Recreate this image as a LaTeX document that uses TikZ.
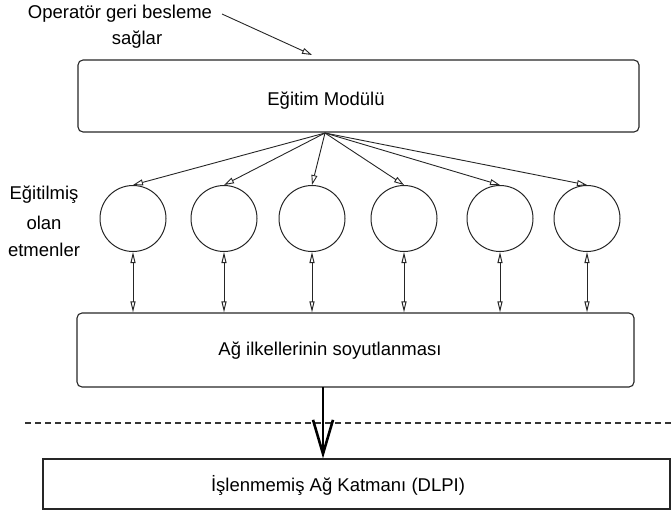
\documentclass[tikz,border=0pt]{standalone}
\usepackage{fontspec}
\setmainfont{Liberation Sans}
\usetikzlibrary{arrows.meta}
\begin{document}
\begin{tikzpicture}[x=1pt,y=-1pt,
  lbl/.style={font=\fontsize{18.5}{22}\selectfont, inner sep=0pt, anchor=center},
  rbox/.style={draw=black!85, line width=1.1pt, rounded corners=5pt, inner sep=0pt},
  sbox/.style={draw=black!85, line width=1.1pt, inner sep=0pt},
  agent/.style={draw=black!85, line width=1pt, circle, minimum size=66pt, inner sep=0pt},
  thin arrow/.style={draw=black!85, line width=0.9pt, -{Triangle[open, length=10pt, width=6pt]}},
  both arrow/.style={draw=black!85, line width=1pt,
    {Triangle[open, length=11pt, width=5pt]}-{Triangle[open, length=11pt, width=5pt]}},
  big arrow/.style={draw=black, line width=2.6pt, -{Straight Barb[length=34pt, width=20pt, line width=2.6pt]}}
]
\useasboundingbox (0,0) rectangle (671,514);

% feedback note
\node[lbl] (fb1) at (120,14) {Operatör geri besleme};
\node[lbl] (fb2) at (137,40) {sağlar};
\coordinate (fbs) at (222,14);
\coordinate (fbe) at (312,55);
\draw[thin arrow] (fbs) -- (fbe);

% training module
\node[rbox, minimum width=561pt, minimum height=72pt] (edu) at (358.5,96) {};
\node[lbl] (edut) at (326,101) {Eğitim Modülü};
\coordinate (fan) at (325,133);

% trained agents
\node[lbl] (ag1) at (44,195) {Eğitilmiş};
\node[lbl] (ag2) at (44,223) {olan};
\node[lbl] (ag3) at (44,250) {etmenler};

\foreach \i/\x in {1/133,2/224,3/312,4/404,5/500,6/587}{
  \node[agent] (c\i) at (\x,218.5) {};
}

% abstraction layer
\node[rbox, minimum width=557pt, minimum height=74pt] (abs) at (355.5,350) {};
\node[lbl] (abst) at (330,351) {Ağ ilkellerinin soyutlanması};

\foreach \i in {1,...,6}{
  \draw[thin arrow] (fan) -- (c\i.north);
  \draw[both arrow] (c\i.south) -- (c\i.south |- abs.north);
}

% separator
\coordinate (sepl) at (25,423);
\coordinate (sepr) at (671,423);
\draw[black!80, line width=1.4pt, dash pattern=on 6pt off 4pt] (sepl) -- (sepr);

% raw network layer
\node[sbox, minimum width=627pt, minimum height=50pt] (raw) at (356.5,484) {};
\node[lbl] (rawt) at (338,485) {İşlenmemiş Ağ Katmanı (DLPI)};

\coordinate (bigs) at (323,387);
\draw[big arrow] (bigs) -- (bigs |- raw.north);
\end{tikzpicture}
\end{document}
